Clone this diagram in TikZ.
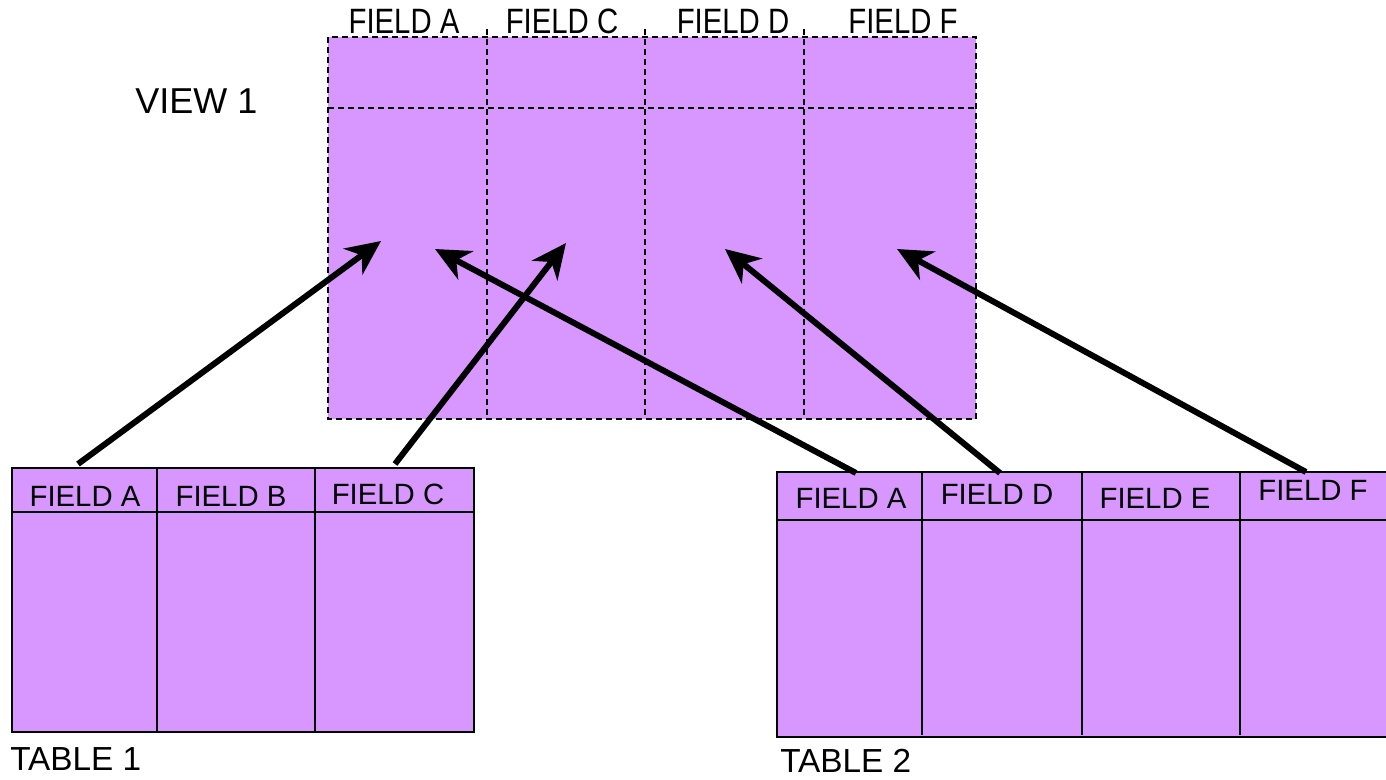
\documentclass[tikz,border=0pt]{standalone}
\usepackage{fontspec}
\setmainfont{Liberation Sans}
\usetikzlibrary{arrows.meta}
\definecolor{lilac}{RGB}{216,150,255}
\begin{document}
\begin{tikzpicture}[x=0.75pt,y=-0.75pt,
  dashline/.style={dash pattern=on 4.5pt off 3pt, line width=1.2pt},
  tline/.style={line width=1.6pt},
  link/.style={line width=4.5pt, -{Stealth[length=26pt,width=24pt,inset=8pt]}},
  lbl/.style={inner sep=0pt, anchor=base, font=\fontsize{22}{26}\selectfont},
  title/.style={inner sep=0pt, anchor=base west, font=\fontsize{25}{30}\selectfont}]
\clip (0,0) rectangle (1386,779);
\fill[white] (0,0) rectangle (1386,779);

% ---------- VIEW 1 ----------
\fill[lilac] (328,37) rectangle (976,419);
\draw[dashline] (328,37) rectangle (976,419);
\draw[dashline] (328,108) -- (976,108);
\foreach \x in {487,645,804} \draw[dashline] (\x,29) -- (\x,419);
\node[title, font=\fontsize{27}{32}\selectfont] (view) at (135,113) {VIEW 1};
\node[lbl] (va) at (404,33) {\scalebox{1}[1.2]{FIELD A}};
\node[lbl] (vc) at (562,33) {\scalebox{1}[1.2]{FIELD C}};
\node[lbl] (vd) at (733,33) {\scalebox{1}[1.2]{FIELD D}};
\node[lbl] (vf) at (903,33) {\scalebox{1}[1.2]{FIELD F}};

% ---------- TABLE 1 ----------
\fill[lilac] (12,468) rectangle (474,732);
\draw[tline] (12,468) rectangle (474,732);
\draw[tline] (12,512) -- (474,512);
\draw[tline] (157,468) -- (157,732);
\draw[tline] (315,468) -- (315,732);
\node[lbl] (t1a) at (85,506) {FIELD A};
\node[lbl] (t1b) at (231,506) {FIELD B};
\node[lbl] (t1c) at (388,504) {FIELD C};
\node[title] (table1) at (10,770) {TABLE 1};

% ---------- TABLE 2 ----------
\fill[lilac] (777,472) rectangle (1400,737);
\draw[tline] (1400,472) -- (777,472) -- (777,737) -- (1400,737);
\draw[tline] (777,520) -- (1400,520);
\foreach \x in {922,1082,1240} \draw[tline] (\x,472) -- (\x,735);
\node[lbl] (t2a) at (851,508) {FIELD A};
\node[lbl] (t2d) at (997,504) {FIELD D};
\node[lbl] (t2e) at (1155,508) {FIELD E};
\node[lbl] (t2f) at (1313,500) {FIELD F};
\node[title] (table2) at (780,772) {TABLE 2};

% ---------- connectors ----------
\coordinate (s1a) at (78,464);
\coordinate (s1c) at (395,464);
\coordinate (s2a) at (856,473);
\coordinate (s2d) at (1000,473);
\coordinate (s2f) at (1306,472);
\coordinate (ea) at (381,241);
\coordinate (ec) at (566,243);
\coordinate (ea2) at (435,249);
\coordinate (ed) at (725,249);
\coordinate (ef) at (897,249);
\draw[link] (s1a) -- (ea);
\draw[link] (s1c) -- (ec);
\draw[link] (s2a) -- (ea2);
\draw[link] (s2d) -- (ed);
\draw[link] (s2f) -- (ef);
\end{tikzpicture}
\end{document}
